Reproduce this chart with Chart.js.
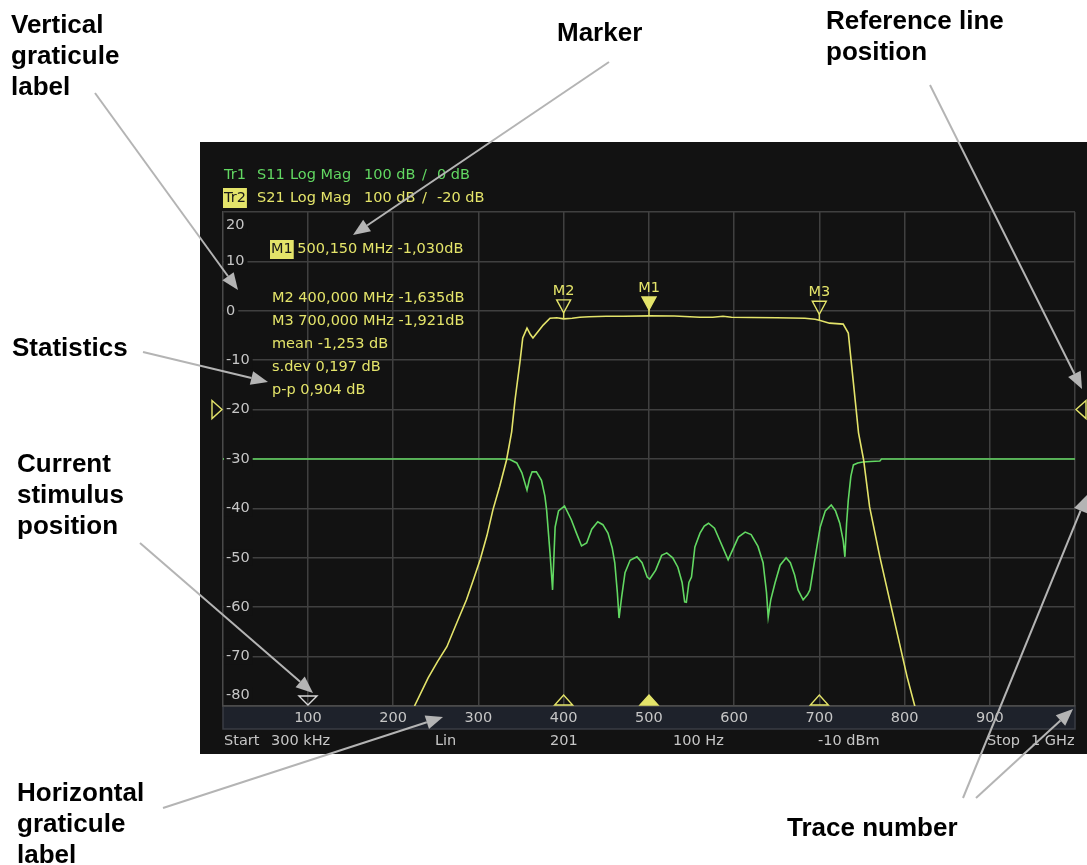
<!DOCTYPE html>
<html>
<head>
<meta charset="utf-8">
<script src="https://cdn.jsdelivr.net/npm/chart.js@4.4.1/dist/chart.umd.min.js"></script>
<style>
  html, body { margin: 0; padding: 0; background: #ffffff; overflow: hidden; }
  #wrap { width: 1087px; height: 865px; position: relative; }
</style>
</head>
<body>
<div id="wrap"><canvas id="c" width="1087" height="865"></canvas></div>
<script>
// Sweep settings (MHz)
const START_MHZ = 0.3;
const STOP_MHZ = 1000;
const X_TICKS = [100, 200, 300, 400, 500, 600, 700, 800, 900];
const Y_TICKS = [20, 10, 0, -10, -20, -30, -40, -50, -60, -70, -80];

// Tr2: S21 transmission of the band-pass filter (dB)
const S21_FREQ = [210, 225, 241, 252, 263, 275, 286, 295, 302, 310, 317, 325, 333, 339, 343, 349, 352, 357, 361, 364, 370, 376, 384, 392, 400, 410, 419, 430, 450, 470, 500.15, 530, 560, 575, 587, 597, 620, 650, 683, 695, 700, 712, 728, 734, 736, 740, 746, 752, 759, 771, 786, 803, 812, 820];
const S21_DB   = [-85, -80, -74.3, -71, -68, -63, -58.5, -54, -50.4, -45.5, -40.3, -35.5, -30.2, -24.5, -18, -10, -5.5, -3.5, -4.8, -5.5, -4.2, -2.9, -1.5, -1.4, -1.635, -1.5, -1.3, -1.2, -1.1, -1.1, -1.03, -1.05, -1.3, -1.3, -1.1, -1.3, -1.35, -1.4, -1.5, -1.7, -1.921, -2.5, -2.7, -4.5, -7.9, -14.6, -24.7, -30.2, -39.7, -49.8, -61.2, -74.1, -80, -85];

// Tr1: S11 reflection (dB)
const S11_FREQ = [0.3, 330, 337, 345, 351, 357, 360, 363, 368, 374, 378, 380, 384, 386, 387, 389, 390, 394, 401, 409, 415, 421, 427, 433, 440, 446, 452, 457, 460, 463, 465, 468, 472, 478, 486, 492, 498, 501, 508, 515, 521, 528, 534, 539, 542, 544, 547, 550, 554, 560, 565, 570, 577, 583, 589, 593, 598, 605, 613, 620, 628, 634, 638, 640, 643, 648, 654, 661, 666, 671, 675, 681, 686, 689, 695, 701, 707, 714, 719, 724, 728, 730, 732, 734, 737, 740, 745, 751, 760, 771, 773, 1000];
const S11_DB   = [-30, -30, -30.1, -30.8, -32.8, -36.3, -34, -32.6, -32.6, -34.3, -37.5, -40.3, -49, -54, -56.5, -48, -43.8, -40.5, -39.5, -42.3, -45, -47.6, -47, -44.2, -42.7, -43.3, -45, -48, -51, -57, -62.2, -58, -53, -50.5, -49.8, -51, -53.9, -54.3, -52.5, -49.5, -49, -50, -51.9, -55, -58.9, -59, -55, -53.9, -47.8, -45, -43.6, -43, -44, -46.4, -48.8, -50.4, -48.5, -45.8, -44.8, -45.3, -47.7, -51, -57, -62, -58.5, -55.1, -51.5, -50, -51, -53.5, -56.5, -58.5, -57.5, -56.5, -50, -43.8, -40.5, -39.3, -40.5, -43, -46.5, -49.8, -43, -38.3, -33.5, -31.2, -30.8, -30.6, -30.5, -30.4, -30, -30];

// Markers on Tr2 and statistics over the pass band
const MARKER_NAMES = ['M1', 'M2', 'M3'];
const MARKER_FREQ = [500.15, 400, 700];
const MARKER_DB = [-1.030, -1.635, -1.921];
const STAT_NAMES = ['mean', 's.dev', 'p-p'];
const STAT_VALUES = [-1.253, 0.197, 0.904];
const REF_LEVEL_DB = -20;
const STIMULUS_MHZ = 100;

const SCREEN_BG = '#121212';
const GRID = '#404040';
const YELLOW = '#e4e46a';
const GREEN = '#62d862';
const GREY_TXT = '#c6c6c6';
const SCREEN_FONT = '14.5px "DejaVu Sans"';

function fmt(v, d) { return v.toFixed(d).replace('.', ','); }
function pts(xs, ys) { return xs.map((x, i) => ({ x: x, y: ys[i] })); }

function tri(ctx, p, fill, stroke) {
  ctx.beginPath();
  ctx.moveTo(p[0][0], p[0][1]);
  for (let i = 1; i < p.length; i++) ctx.lineTo(p[i][0], p[i][1]);
  ctx.closePath();
  if (fill) { ctx.fillStyle = fill; ctx.fill(); }
  if (stroke) { ctx.strokeStyle = stroke; ctx.lineWidth = 1.4; ctx.stroke(); }
}

function arrow(ctx, x1, y1, x2, y2) {
  const a = Math.atan2(y2 - y1, x2 - x1);
  const L = 17, W = 7;
  const bx = x2 - L * Math.cos(a), by = y2 - L * Math.sin(a);
  ctx.beginPath(); ctx.moveTo(x1, y1); ctx.lineTo(bx, by); ctx.stroke();
  ctx.beginPath();
  ctx.moveTo(x2, y2);
  ctx.lineTo(bx + W * Math.sin(a), by - W * Math.cos(a));
  ctx.lineTo(bx - W * Math.sin(a), by + W * Math.cos(a));
  ctx.closePath(); ctx.fill();
}

// Callout texts and leader arrows around the analyzer screen
const CALLOUTS = [
  { lines: ['Vertical', 'graticule', 'label'], x: 11, y: 33 },
  { lines: ['Marker'], x: 557, y: 41 },
  { lines: ['Reference line', 'position'], x: 826, y: 29 },
  { lines: ['Statistics'], x: 12, y: 356 },
  { lines: ['Current', 'stimulus', 'position'], x: 17, y: 472 },
  { lines: ['Horizontal', 'graticule', 'label'], x: 17, y: 801 },
  { lines: ['Trace number'], x: 787, y: 836 }
];
const LEADERS = [
  [95, 93, 238, 290], [609, 62, 353, 235], [930, 85, 1082, 389], [143, 352, 268, 382],
  [140, 543, 313, 693], [163, 808, 443, 717], [963, 798, 1087, 495], [976, 798, 1073, 709]
];

const screenPlugin = {
  id: 'screen',
  beforeDraw(chart) {
    const ctx = chart.ctx, a = chart.chartArea;
    const xs = chart.scales.x;
    ctx.save();
    ctx.fillStyle = '#ffffff';
    ctx.fillRect(0, 0, chart.width, chart.height);
    ctx.fillStyle = SCREEN_BG;
    ctx.fillRect(200, 142, 887, 612);
    // stimulus axis band with its graticule labels
    ctx.fillStyle = '#1e222b';
    ctx.fillRect(a.left, a.bottom, a.right - a.left, 23);
    ctx.strokeStyle = '#3a3d44';
    ctx.lineWidth = 1.5;
    ctx.strokeRect(a.left, a.bottom, a.right - a.left, 23);
    ctx.font = SCREEN_FONT;
    ctx.textBaseline = 'middle';
    ctx.textAlign = 'center';
    ctx.fillStyle = GREY_TXT;
    xs.ticks.forEach(t => {
      if (X_TICKS.includes(t.value)) ctx.fillText(String(t.value), xs.getPixelForValue(t.value), a.bottom + 12);
    });
    ctx.restore();
  },
  afterDatasetsDraw(chart) {
    const ctx = chart.ctx, a = chart.chartArea;
    const xs = chart.scales.x, ys = chart.scales.y;
    ctx.save();
    ctx.font = SCREEN_FONT;
    ctx.textBaseline = 'middle';

    // vertical graticule labels with backdrop
    ys.ticks.forEach(tk => {
      const v = tk.value;
      let cy = ys.getPixelForValue(v);
      cy = Math.min(Math.max(cy, a.top + 13), a.bottom - 11);
      const t = String(v);
      const w = ctx.measureText(t).width;
      ctx.fillStyle = SCREEN_BG;
      ctx.fillRect(a.left + 1, cy - 8, w + 5, 16);
      ctx.fillStyle = GREY_TXT;
      ctx.textAlign = 'left';
      ctx.fillText(t, a.left + 3, cy);
    });

    // markers on the trace
    MARKER_NAMES.forEach((n, i) => {
      const px = xs.getPixelForValue(MARKER_FREQ[i]);
      const py = ys.getPixelForValue(MARKER_DB[i]);
      const active = i === 0;
      ctx.strokeStyle = YELLOW; ctx.lineWidth = 1.4;
      ctx.beginPath(); ctx.moveTo(px, py - 7); ctx.lineTo(px, py); ctx.stroke();
      tri(ctx, [[px - 7, py - 19], [px + 7, py - 19], [px, py - 6]], active ? YELLOW : null, YELLOW);
      ctx.fillStyle = YELLOW; ctx.textAlign = 'center';
      ctx.fillText(n, px, py - 28);
      // stimulus position of each marker on the bottom edge
      tri(ctx, [[px - 9, a.bottom - 1], [px + 9, a.bottom - 1], [px, a.bottom - 11]], active ? YELLOW : null, YELLOW);
    });

    // current stimulus position
    const sx = xs.getPixelForValue(STIMULUS_MHZ);
    tri(ctx, [[sx - 9, a.bottom - 10], [sx + 9, a.bottom - 10], [sx, a.bottom - 1]], null, '#d8d8d8');

    // reference level arrows on both sides
    const ry = ys.getPixelForValue(REF_LEVEL_DB);
    tri(ctx, [[a.left - 11, ry - 9], [a.left - 11, ry + 9], [a.left - 1, ry]], null, YELLOW);
    tri(ctx, [[a.right + 11, ry - 9], [a.right + 11, ry + 9], [a.right + 1, ry]], null, YELLOW);

    // trace headers
    ctx.textAlign = 'left';
    const head = [
      { y: 175, col: GREEN, parts: ['Tr1', 'S11', 'Log Mag', '100 dB', '/', '0 dB'], box: false },
      { y: 198, col: YELLOW, parts: ['Tr2', 'S21', 'Log Mag', '100 dB', '/', '-20 dB'], box: true }
    ];
    const hx = [224, 257, 290, 364, 422, 437];
    head.forEach(h => {
      h.parts.forEach((p, k) => {
        if (k === 0 && h.box) {
          const w = ctx.measureText(p).width;
          ctx.fillStyle = YELLOW;
          ctx.fillRect(hx[0] - 1, h.y - 10, w + 2, 20);
          ctx.fillStyle = '#1a1a1a';
        } else {
          ctx.fillStyle = h.col;
        }
        ctx.fillText(p, hx[k], h.y);
      });
    });

    // marker readout and statistics
    const mLine = i => MARKER_NAMES[i] + ' ' + fmt(MARKER_FREQ[i], 3) + ' MHz ' + fmt(MARKER_DB[i], 3) + 'dB';
    const w1 = ctx.measureText(MARKER_NAMES[0]).width;
    ctx.fillStyle = YELLOW;
    ctx.fillRect(270, 240, w1 + 2, 19);
    ctx.fillStyle = '#1a1a1a';
    ctx.fillText(MARKER_NAMES[0], 271, 249);
    ctx.fillStyle = YELLOW;
    ctx.fillText(mLine(0).slice(MARKER_NAMES[0].length), 271 + w1, 249);
    const rows = [mLine(1), mLine(2)].concat(STAT_NAMES.map((n, i) => n + ' ' + fmt(STAT_VALUES[i], 3) + ' dB'));
    rows.forEach((t, i) => ctx.fillText(t, 272, 298 + i * 23));

    // sweep status line
    ctx.fillStyle = GREY_TXT;
    const status = [['Start', 224], ['300 kHz', 271], ['Lin', 435], ['201', 550], ['100 Hz', 673], ['-10 dBm', 818], ['Stop', 987], ['1 GHz', 1031]];
    status.forEach(s => ctx.fillText(s[0], s[1], 741));
    ctx.restore();
  },
  afterDraw(chart) {
    const ctx = chart.ctx;
    ctx.save();
    ctx.strokeStyle = '#b4b4b4';
    ctx.fillStyle = '#b4b4b4';
    ctx.lineWidth = 2;
    LEADERS.forEach(l => arrow(ctx, l[0], l[1], l[2], l[3]));
    ctx.fillStyle = '#000000';
    ctx.font = 'bold 26px "Liberation Sans", Arial, sans-serif';
    ctx.textBaseline = 'alphabetic';
    ctx.textAlign = 'left';
    CALLOUTS.forEach(c => c.lines.forEach((t, i) => ctx.fillText(t, c.x, c.y + i * 31)));
    ctx.restore();
  }
};

new Chart(document.getElementById('c'), {
  type: 'scatter',
  data: {
    datasets: [
      { label: 'Tr2 S21', data: pts(S21_FREQ, S21_DB), showLine: true, borderColor: YELLOW, borderWidth: 1.6, pointRadius: 0, tension: 0 },
      { label: 'Tr1 S11', data: pts(S11_FREQ, S11_DB), showLine: true, borderColor: GREEN, borderWidth: 1.6, pointRadius: 0, tension: 0 }
    ]
  },
  options: {
    responsive: false,
    animation: false,
    devicePixelRatio: 1,
    layout: { padding: { left: 223, right: 12, top: 212, bottom: 159 } },
    plugins: { legend: { display: false }, tooltip: { enabled: false } },
    scales: {
      x: {
        type: 'linear', min: START_MHZ, max: STOP_MHZ,
        afterBuildTicks: s => { s.ticks = X_TICKS.concat([STOP_MHZ]).map(v => ({ value: v })); },
        afterFit: s => { s.height = 0; },
        grid: { color: GRID, lineWidth: 1.5, drawTicks: false },
        border: { color: '#4a4a4a', width: 1.5 },
        ticks: { display: false }
      },
      y: {
        type: 'linear', min: Y_TICKS[Y_TICKS.length - 1], max: Y_TICKS[0],
        afterBuildTicks: s => { s.ticks = Y_TICKS.slice().reverse().map(v => ({ value: v })); },
        afterFit: s => { s.width = 0; },
        grid: { color: GRID, lineWidth: 1.5, drawTicks: false },
        border: { color: '#4a4a4a', width: 1.5 },
        ticks: { display: false }
      }
    }
  },
  plugins: [screenPlugin]
});
</script>
</body>
</html>
